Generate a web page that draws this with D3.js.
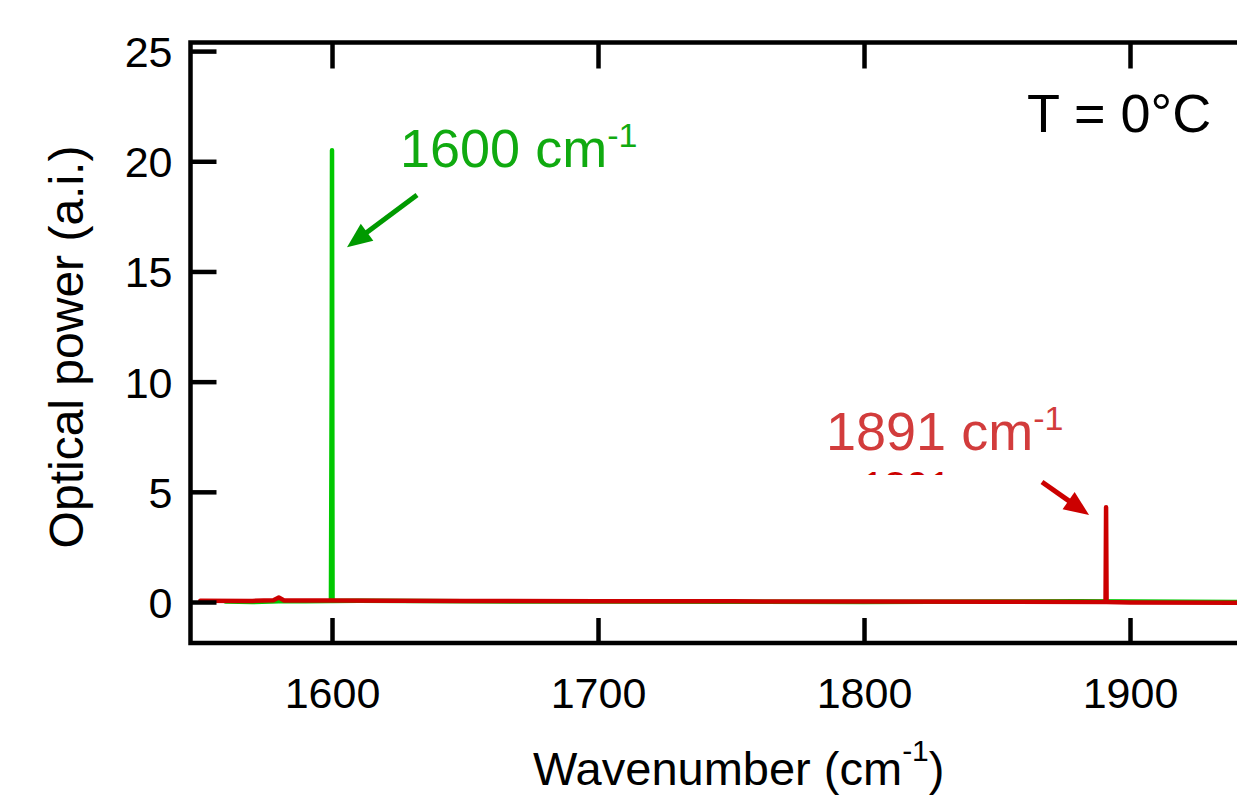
<!DOCTYPE html>
<html><head><meta charset="utf-8">
<script src="https://cdn.jsdelivr.net/npm/d3@7"></script>
<style>
html,body{margin:0;padding:0;background:#fff;overflow:hidden;}
svg{display:block;font-family:"Liberation Sans",Arial,Helvetica,sans-serif;}
</style></head>
<body>
<svg id="chart" width="1237" height="810"></svg>
<script>
// ---- data ----
const xTicks = [1600, 1700, 1800, 1900];
const yTicks = [0, 5, 10, 15, 20, 25];
const greenWavenumber = [1560, 1570, 1580, 1590, 1599.6, 1599.9, 1600.0, 1600.2, 1610, 1650, 1700, 1750, 1800, 1850, 1880, 1900, 1950];
const greenPower      = [0.02, 0.0, 0.04, 0.03, 0.05, 11.2, 20.5, 0.05, 0.06, 0.03, 0.02, 0.01, 0.0, 0.02, 0.04, 0.02, 0.0];
const redWavenumber = [1550.5, 1570, 1578, 1580, 1582, 1600, 1650, 1700, 1750, 1800, 1850, 1890.8, 1891, 1891.2, 1900, 1950];
const redPower      = [0.06, 0.05, 0.08, 0.2, 0.07, 0.07, 0.05, 0.04, 0.03, 0.02, 0.01, 0.0, 4.3, 0.0, -0.02, -0.04];
const greenLabel = {x: 1600, y: 20.5};
const redLabel = {x: 1891, y: 4.3};

// ---- layout ----
const svg = d3.select("#chart");
const mLeft = 190.5, mTop = 42.5, mBottom = 643;
const xScale = d3.scaleLinear().domain([1546.8, 1946.8]).range([mLeft, mLeft + 400 * 2.66]);
const yScale = d3.scaleLinear().domain([-1.86, 25.39]).range([mBottom, mTop]);
const mRight = xScale.range()[1];

const greenLine = "#00c800", redLine = "#cc0000";
const greenText = "#10aa10", redText = "#d23c3c";

// series
const line = d3.line().x(d => xScale(d[0])).y(d => yScale(d[1]));
const gData = greenWavenumber.map((w, i) => [w, greenPower[i]]);
const rData = redWavenumber.map((w, i) => [w, redPower[i]]);
svg.append("path").datum(gData).attr("d", line).attr("fill", "none")
  .attr("stroke", greenLine).attr("stroke-width", 4.5).attr("stroke-linejoin", "round").attr("stroke-linecap", "round");
svg.append("path").datum(rData).attr("d", line).attr("fill", "none")
  .attr("stroke", redLine).attr("stroke-width", 4.5).attr("stroke-linejoin", "round").attr("stroke-linecap", "round");

// axes (ticks inside)
const yAxis = d3.axisLeft(yScale).tickValues(yTicks).tickSize(-26).tickPadding(18).tickFormat(d3.format("d"));
const gy = svg.append("g").attr("transform", `translate(${mLeft},0)`).call(yAxis);
const xAxis = d3.axisBottom(xScale).tickValues(xTicks).tickSize(-25).tickPadding(34).tickFormat(d3.format("d"));
const gx = svg.append("g").attr("transform", `translate(0,${mBottom})`).call(xAxis);
const xTopAxis = d3.axisTop(xScale).tickValues(xTicks).tickSize(-26).tickFormat("");
const gt = svg.append("g").attr("transform", `translate(0,${mTop})`).call(xTopAxis);
[gy, gx, gt].forEach(g => {
  g.select(".domain").remove();
  g.selectAll(".tick line").attr("stroke", "#000").attr("stroke-width", 4.5);
  g.selectAll(".tick text").attr("fill", "#000").attr("font-size", 43).attr("font-family", "Liberation Sans, Arial, sans-serif");
});
gy.selectAll(".tick text").attr("dy", "0.36em");
// frame
svg.append("path").attr("d", `M${mRight},${mTop}H${mLeft}V${mBottom}H${mRight}`)
  .attr("fill", "none").attr("stroke", "#000").attr("stroke-width", 4.5);

// axis titles
const xt = svg.append("text").attr("x", 533).attr("y", 785).attr("font-size", 47).attr("fill", "#000");
xt.append("tspan").text("Wavenumber (cm");
xt.append("tspan").attr("font-size", 30).attr("dy", -24).text("-1");
xt.append("tspan").attr("dy", 24).text(")");

svg.append("text").attr("transform", "translate(83,347) rotate(-90)").attr("text-anchor", "middle")
  .attr("font-size", 48).attr("fill", "#000").text("Optical power (a.i.)");

// temperature
svg.append("text").attr("x", 1027).attr("y", 132).attr("font-size", 54).attr("fill", "#000").text("T = 0°C");

// annotations
function label(x, y, color, txt) {
  const t = svg.append("text").attr("x", x).attr("y", y).attr("font-size", 54).attr("fill", color);
  t.append("tspan").text(txt);
  t.append("tspan").attr("font-size", 34).attr("dy", -20).text("-1");
}
label(400, 167, greenText, "1600 cm");
label(826, 450, redText, "1891 cm");

// clipped ghost text under red label
svg.append("clipPath").attr("id", "ghost").append("rect").attr("x", 850).attr("y", 471).attr("width", 200).attr("height", 4);
svg.append("text").attr("clip-path", "url(#ghost)").attr("x", 862).attr("y", 500).attr("font-size", 40)
  .attr("fill", redLine).text("1891 cm");

function arrow(x1, y1, x2, y2, color) {
  const ang = Math.atan2(y2 - y1, x2 - x1);
  const hl = 25, hw = 10.5;
  const bx = x2 - hl * Math.cos(ang), by = y2 - hl * Math.sin(ang);
  svg.append("line").attr("x1", x1).attr("y1", y1).attr("x2", bx + 3 * Math.cos(ang)).attr("y2", by + 3 * Math.sin(ang))
    .attr("stroke", color).attr("stroke-width", 5);
  const px = -Math.sin(ang) * hw, py = Math.cos(ang) * hw;
  svg.append("path").attr("d", `M${x2},${y2}L${bx + px},${by + py}L${bx - px},${by - py}Z`)
    .attr("fill", color);
}
// arrows anchored to the peaks via scales
arrow(417, 195, xScale(greenLabel.x) + 15, yScale(greenLabel.y - 4.4), "#009a00");
arrow(1042, 482, xScale(redLabel.x) - 17, yScale(redLabel.y - 0.35), redLine);
</script>
</body></html>
